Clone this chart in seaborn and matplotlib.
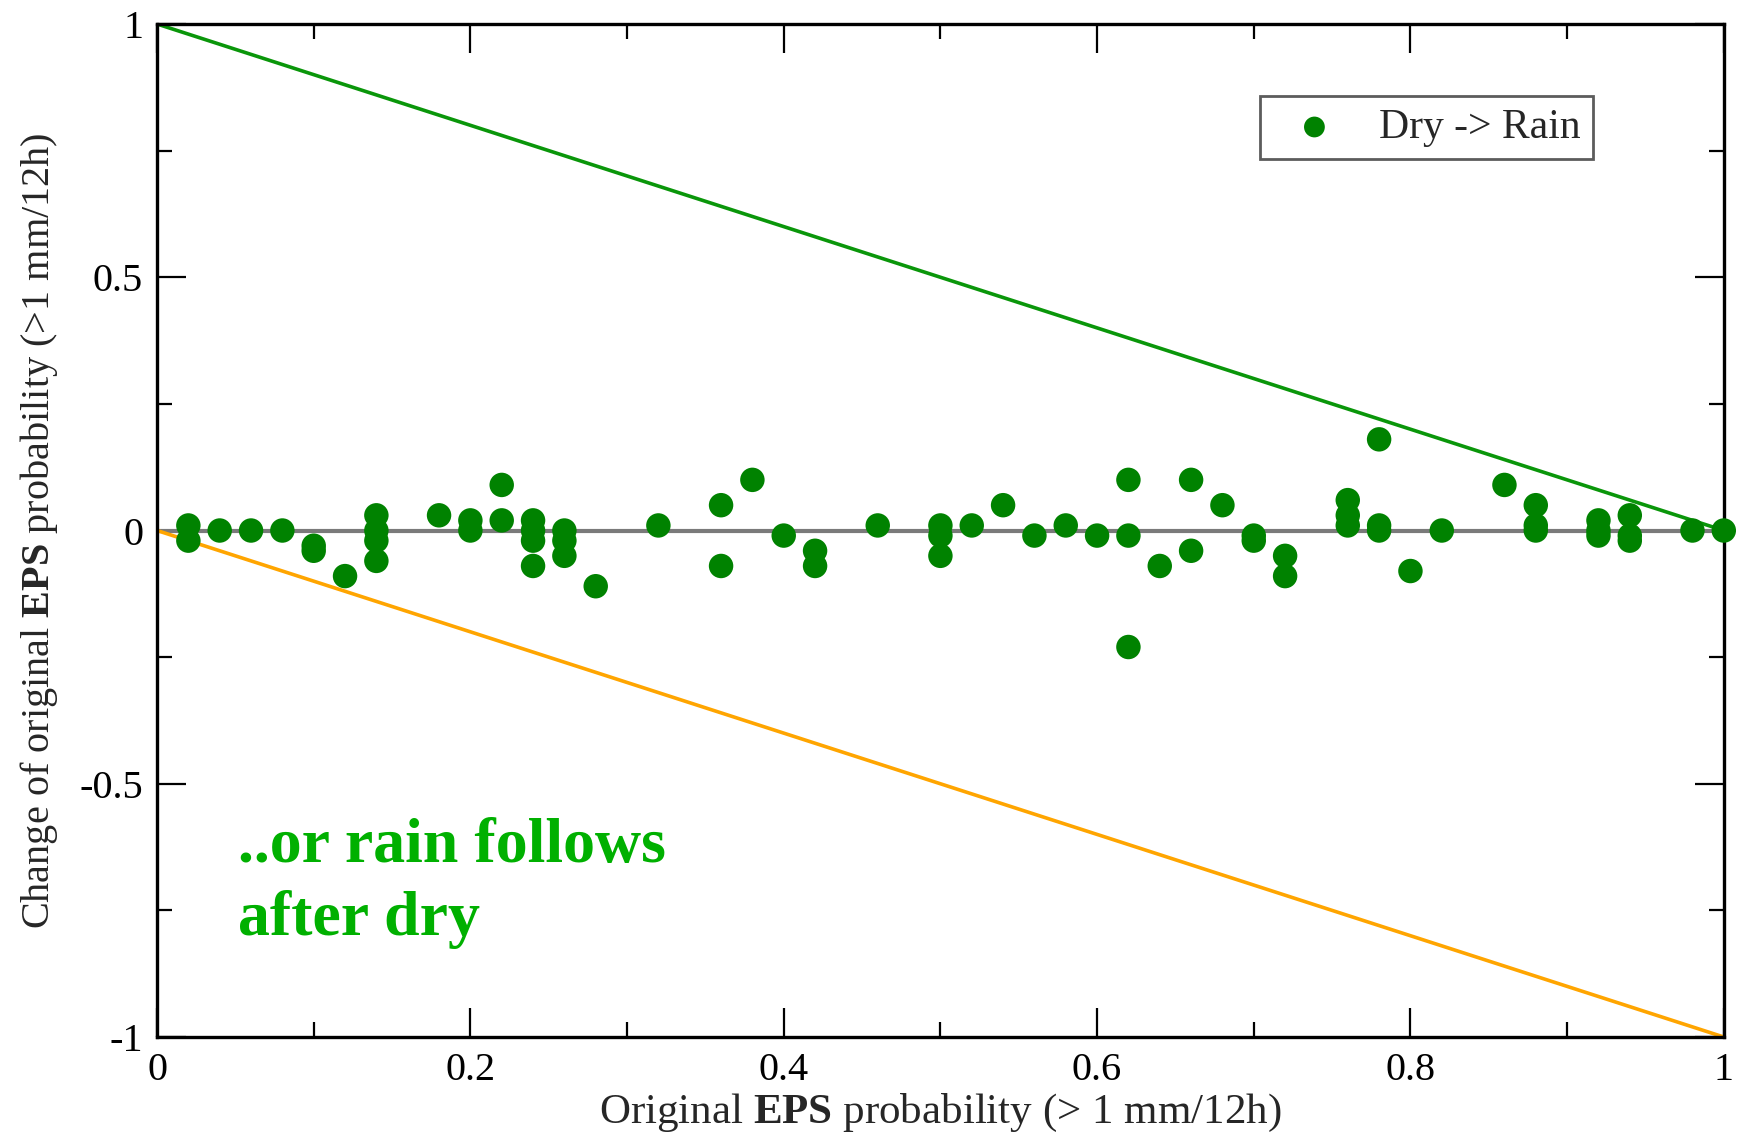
import matplotlib
matplotlib.use("Agg")
import matplotlib.pyplot as plt
import matplotlib.ticker as mticker
import numpy as np
import pandas as pd
import seaborn as sns

# Original EPS probability (> 1 mm/12h) and the change applied to it
prob = [
    0.02, 0.02,
    0.04, 0.06, 0.08,
    0.10, 0.10,
    0.12,
    0.14, 0.14, 0.14, 0.14,
    0.18,
    0.20, 0.20,
    0.22, 0.22,
    0.24, 0.24, 0.24, 0.24,
    0.26, 0.26, 0.26,
    0.28,
    0.32,
    0.36, 0.36,
    0.38,
    0.40,
    0.42, 0.42,
    0.46,
    0.50, 0.50, 0.50,
    0.52, 0.54, 0.56, 0.58, 0.60,
    0.62, 0.62, 0.62,
    0.64,
    0.66, 0.66,
    0.68,
    0.70, 0.70,
    0.72, 0.72,
    0.76, 0.76, 0.76,
    0.78, 0.78, 0.78,
    0.80, 0.82, 0.86,
    0.88, 0.88, 0.88,
    0.92, 0.92, 0.92,
    0.94, 0.94, 0.94,
    0.98, 1.00,
]
change = [
    0.01, -0.02,
    0.00, 0.00, 0.00,
    -0.03, -0.04,
    -0.09,
    0.03, 0.00, -0.02, -0.06,
    0.03,
    0.02, 0.00,
    0.09, 0.02,
    0.02, 0.00, -0.02, -0.07,
    0.00, -0.02, -0.05,
    -0.11,
    0.01,
    0.05, -0.07,
    0.10,
    -0.01,
    -0.04, -0.07,
    0.01,
    0.01, -0.01, -0.05,
    0.01, 0.05, -0.01, 0.01, -0.01,
    0.10, -0.01, -0.23,
    -0.07,
    0.10, -0.04,
    0.05,
    -0.01, -0.02,
    -0.05, -0.09,
    0.06, 0.03, 0.01,
    0.18, 0.01, 0.00,
    -0.08, 0.00, 0.09,
    0.05, 0.01, 0.00,
    0.02, 0.00, -0.01,
    0.03, -0.01, -0.02,
    0.00, 0.00,
]

# Bounds: the largest possible increase and decrease
bound_x = [0.0, 1.0]
upper_bound = [1.0, 0.0]
lower_bound = [0.0, -1.0]
zero_x = [0.0, 1.0]
zero_y = [0.0, 0.0]

series_label = "Dry -> Rain"
x_ticks = [0, 0.2, 0.4, 0.6, 0.8, 1]
y_ticks = [-1, -0.5, 0, 0.5, 1]

sns.set_style("ticks")
plt.rcParams["font.family"] = ["Liberation Serif", "DejaVu Serif"]
plt.rcParams["mathtext.fontset"] = "custom"
plt.rcParams["mathtext.rm"] = "Liberation Serif"
plt.rcParams["mathtext.bf"] = "Liberation Serif:bold"
plt.rcParams["axes.unicode_minus"] = False

fig = plt.figure(figsize=(17.37, 11.32), dpi=100)
ax = fig.add_axes([0.0904, 0.0839, 0.902, 0.8949])

df = pd.DataFrame({"prob": prob, "change": change})

sns.lineplot(x=zero_x, y=zero_y, ax=ax, color="#7a7a7a", linewidth=3.0, zorder=2)
sns.lineplot(x=bound_x, y=upper_bound, ax=ax, color="#0a960a", linewidth=2.6, zorder=2)
sns.lineplot(x=bound_x, y=lower_bound, ax=ax, color="#ffa500", linewidth=2.6, zorder=2)

sns.scatterplot(data=df, x="prob", y="change", ax=ax, color="#008200", s=310,
                edgecolor="none", label=series_label, zorder=3, clip_on=False)

ax.set_xlim(0, 1)
ax.set_ylim(-1, 1)
ax.xaxis.set_major_locator(mticker.FixedLocator(x_ticks))
ax.xaxis.set_minor_locator(mticker.MultipleLocator(0.1))
ax.yaxis.set_major_locator(mticker.FixedLocator(y_ticks))
ax.yaxis.set_minor_locator(mticker.MultipleLocator(0.25))
fmt = mticker.FuncFormatter(lambda v, p: f"{v:g}")
ax.xaxis.set_major_formatter(fmt)
ax.yaxis.set_major_formatter(fmt)

ax.tick_params(which="both", direction="in", top=True, right=True, width=1.6, colors="black")
ax.tick_params(which="major", length=21, labelsize=29)
ax.tick_params(which="minor", length=11)
ax.tick_params(axis="x", which="major", pad=11)
ax.tick_params(axis="y", which="major", pad=10)
for sp in ax.spines.values():
    sp.set_visible(True)
    sp.set_linewidth(2.4)
    sp.set_color("black")

ax.set_xlabel(r"Original $\mathbf{EPS}$ probability (> 1 mm/12h)", fontsize=31, labelpad=2)
ax.set_ylabel(r"Change of original $\mathbf{EPS}$ probability (>1 mm/12h)", fontsize=29, labelpad=14)

leg = ax.legend(loc="upper right", bbox_to_anchor=(0.9166, 0.929), fontsize=30, frameon=True,
                fancybox=False, borderpad=0.3, handletextpad=0.55, markerscale=0.85,
                borderaxespad=0)
leg.get_frame().set_edgecolor("#333333")
leg.get_frame().set_linewidth(2.0)

ax.text(0.052, -0.568, "..or rain follows\nafter dry", color="#00b000", fontsize=46,
        fontweight="bold", va="top", ha="left", linespacing=1.3)

fig.savefig("out.png", dpi=100)
